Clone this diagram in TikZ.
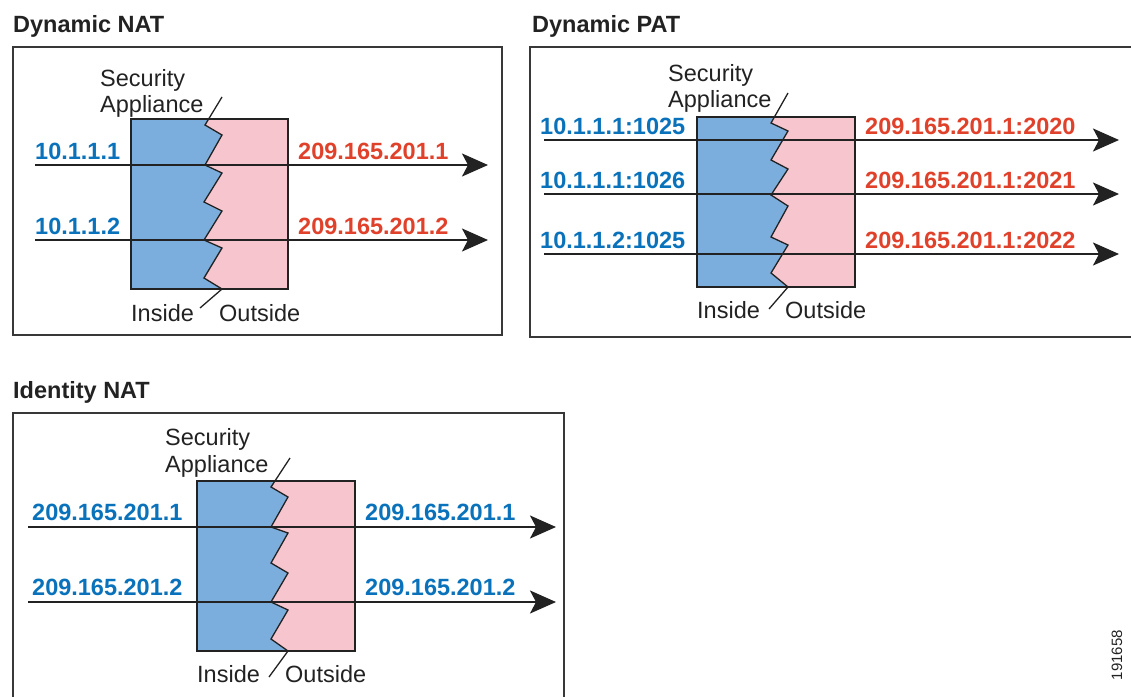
\documentclass[tikz,border=0pt]{standalone}
\usepackage{fontspec}
\setmainfont{Liberation Sans}
\usetikzlibrary{arrows.meta}
\definecolor{inblue}{HTML}{7BAEDC}
\definecolor{outpink}{HTML}{F7C5CE}
\definecolor{ipblue}{HTML}{0A72BA}
\definecolor{ipred}{HTML}{E0412B}
\definecolor{ink}{HTML}{222222}
\begin{document}
\begin{tikzpicture}[x=1pt,y=-1pt,
  lbl/.style={anchor=base west,inner sep=0pt,text=ink,font=\fontsize{23.5}{26}\selectfont},
  ttl/.style={anchor=base west,inner sep=0pt,text=ink,font=\fontsize{23.5}{26}\selectfont\bfseries},
  ipin/.style={anchor=base west,inner sep=0pt,text=ipblue,font=\fontsize{23.5}{26}\selectfont\bfseries},
  ipout/.style={anchor=base west,inner sep=0pt,text=ipred,font=\fontsize{23.5}{26}\selectfont\bfseries},
  flow/.style={line width=2pt,draw=ink,-{Stealth[length=26pt,width=23pt,inset=6pt]}},
  panel/.style={line width=1.5pt,draw=ink!90},
  boxline/.style={line width=1.4pt,draw=ink},
  zig/.style={line width=1.3pt,draw=ink,line join=miter}]
\useasboundingbox (0,0) rectangle (1131,696);

% ================= Dynamic NAT =================
\node[ttl] (t1) at (13,32) {Dynamic NAT};
\draw[panel] (13,47) rectangle (502,335);
\fill[outpink] (131,119) rectangle (288,289);
\fill[inblue] (131,119) -- (208.5,119) -- (205,125) -- (222,135) -- (205,165) -- (222,173) -- (204,202) -- (222,211) -- (204,240) -- (222,248) -- (204,278) -- (222,289) -- (131,289) -- cycle;
\draw[zig] (222,97) -- (205,125) -- (222,135) -- (205,165) -- (222,173) -- (204,202) -- (222,211) -- (204,240) -- (222,248) -- (204,278) -- (222,289) -- (200,308);
\draw[boxline] (131,119) rectangle (288,289);
\node[lbl] (sa1a) at (100,86) {Security};
\node[lbl] (sa1b) at (100,112) {Appliance};
\node[lbl] (in1) at (131,321) {Inside};
\node[lbl] (out1) at (219,321) {Outside};
\coordinate (f1as) at (35,165);  \coordinate (f1ae) at (488,165);
\coordinate (f1bs) at (35,240);  \coordinate (f1be) at (488,240);
\draw[flow] (f1as) -- (f1ae);
\draw[flow] (f1bs) -- (f1be);
\node[ipin] (l1a) at (35,159) {10.1.1.1};
\node[ipin] (l1b) at (35,234) {10.1.1.2};
\node[ipout] (r1a) at (298,159) {209.165.201.1};
\node[ipout] (r1b) at (298,234) {209.165.201.2};

% ================= Dynamic PAT =================
\node[ttl] (t2) at (532,32) {Dynamic PAT};
\draw[panel] (1135,47) -- (530,47) -- (530,337) -- (1135,337);
\fill[outpink] (697,117) rectangle (855,287);
\fill[inblue] (697,117) -- (774.4,117) -- (771,123) -- (788,131) -- (771,160) -- (788,169) -- (771,195) -- (788,206) -- (771,237) -- (788,245) -- (771,273) -- (788,287) -- (697,287) -- cycle;
\draw[zig] (788,93) -- (771,123) -- (788,131) -- (771,160) -- (788,169) -- (771,195) -- (788,206) -- (771,237) -- (788,245) -- (771,273) -- (788,287) -- (769,309);
\draw[boxline] (697,117) rectangle (855,287);
\node[lbl] (sa2a) at (668,81) {Security};
\node[lbl] (sa2b) at (668,107) {Appliance};
\node[lbl] (in2) at (697,318) {Inside};
\node[lbl] (out2) at (785,318) {Outside};
\coordinate (f2as) at (544,140);  \coordinate (f2ae) at (1119,140);
\coordinate (f2bs) at (544,194);  \coordinate (f2be) at (1119,194);
\coordinate (f2cs) at (544,254);  \coordinate (f2ce) at (1119,254);
\draw[flow] (f2as) -- (f2ae);
\draw[flow] (f2bs) -- (f2be);
\draw[flow] (f2cs) -- (f2ce);
\node[ipin] (l2a) at (540,134) {10.1.1.1:1025};
\node[ipin] (l2b) at (540,188) {10.1.1.1:1026};
\node[ipin] (l2c) at (540,248) {10.1.1.2:1025};
\node[ipout] (r2a) at (865,134) {209.165.201.1:2020};
\node[ipout] (r2b) at (865,188) {209.165.201.1:2021};
\node[ipout] (r2c) at (865,248) {209.165.201.1:2022};

% ================= Identity NAT =================
\node[ttl] (t3) at (13,398) {Identity NAT};
\draw[panel] (13,700) -- (13,413) -- (564,413) -- (564,700);
\fill[outpink] (197,481) rectangle (355,651);
\fill[inblue] (197,481) -- (275,481) -- (271,487) -- (288,497) -- (271,527) -- (288,533) -- (271,563) -- (288,573) -- (271,602) -- (288,610) -- (271,639) -- (288,651) -- (197,651) -- cycle;
\draw[zig] (290,458) -- (271,487) -- (288,497) -- (271,527) -- (288,533) -- (271,563) -- (288,573) -- (271,602) -- (288,610) -- (271,639) -- (288,651) -- (269,677);
\draw[boxline] (197,481) rectangle (355,651);
\node[lbl] (sa3a) at (165,445) {Security};
\node[lbl] (sa3b) at (165,472) {Appliance};
\node[lbl] (in3) at (197,682) {Inside};
\node[lbl] (out3) at (285,682) {Outside};
\coordinate (f3as) at (28,527);  \coordinate (f3ae) at (556,527);
\coordinate (f3bs) at (28,602);  \coordinate (f3be) at (556,602);
\draw[flow] (f3as) -- (f3ae);
\draw[flow] (f3bs) -- (f3be);
\node[ipin] (l3a) at (32,520) {209.165.201.1};
\node[ipin] (l3b) at (32,595) {209.165.201.2};
\node[ipin] (r3a) at (365,520) {209.165.201.1};
\node[ipin] (r3b) at (365,595) {209.165.201.2};

% figure number
\node[rotate=90,inner sep=0pt,text=ink,font=\fontsize{15}{17}\selectfont] (fig) at (1117,655) {191658};
\end{tikzpicture}
\end{document}
